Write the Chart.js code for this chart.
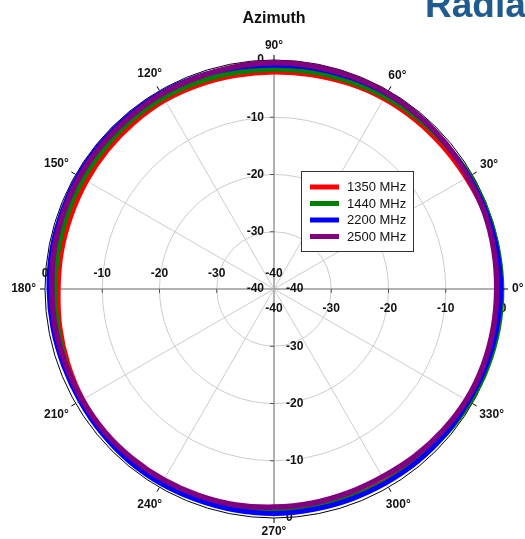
<!DOCTYPE html>
<html lang="en">
<head>
<meta charset="UTF-8">
<title>Azimuth Pattern</title>
<script src="https://cdn.jsdelivr.net/npm/chart.js"></script>
<style>
    body { margin: 0; background: #fff; }
    canvas { display: block; }
</style>
</head>
<body>
<canvas id="azChart" width="525" height="539"></canvas>
<script>
// azimuth angles in degrees (0 = right, counter-clockwise), gain in dB
const angles = [0, 10, 20, 30, 40, 50, 60, 70, 80, 90, 100, 110, 120, 130, 140, 150, 160, 170,
                180, 190, 200, 210, 220, 230, 240, 250, 260, 270, 280, 290, 300, 310, 320, 330, 340, 350];
const gain1350 = [-0.4, -0.5, -0.8, -1.2, -1.4, -1.5, -1.6, -1.8, -2.0, -2.1, -2.1, -2.0, -1.9, -2.0, -2.1, -2.2, -2.3, -2.3,
                  -2.3, -2.0, -1.7, -1.4, -1.3, -1.3, -1.3, -1.3, -1.4, -1.35, -1.4, -1.3, -1.2, -1.1, -1.0, -0.9, -0.7, -0.5];
const gain1440 = [-0.2, -0.3, -0.4, -0.5, -0.8, -1.0, -1.2, -1.4, -1.5, -1.6, -1.6, -1.5, -1.4, -1.4, -1.5, -1.5, -1.6, -1.7,
                  -1.75, -1.6, -1.4, -1.2, -1.2, -1.2, -1.2, -1.3, -1.4, -1.4, -1.3, -1.2, -1.1, -0.9, -0.7, -0.5, -0.3, -0.2];
const gain2200 = [-0.4, -0.5, -0.6, -0.7, -0.7, -0.6, -0.6, -0.7, -0.8, -0.9, -0.8, -0.6, -0.5, -0.5, -0.5, -0.5, -0.6, -0.6,
                  -0.7, -0.8, -0.9, -0.9, -0.8, -0.7, -0.7, -0.8, -0.8, -0.8, -0.9, -0.9, -0.9, -0.8, -0.8, -0.8, -0.6, -0.5];
const gain2500 = [-1.1, -1.0, -0.9, -0.9, -0.7, -0.6, -0.5, -0.5, -0.5, -0.5, -0.6, -0.7, -0.7, -0.8, -0.8, -0.8, -0.9, -1.0,
                  -1.2, -1.2, -1.3, -1.3, -1.3, -1.4, -1.5, -1.6, -1.7, -1.9, -2.0, -2.1, -2.1, -1.8, -1.5, -1.2, -1.1, -1.1];
const seriesNames = ["1350 MHz", "1440 MHz", "2200 MHz", "2500 MHz"];
const seriesColors = ["#ff0000", "#008000", "#0000ff", "#800080"];
const radialTicks = [-40, -30, -20, -10, 0];
const angleTicks = [0, 30, 60, 90, 120, 150, 180, 210, 240, 270, 300, 330];

const FONT = "'Liberation Sans', Arial, sans-serif";

// radar goes clockwise from the start angle, the pattern goes counter-clockwise
const reorder = arr => arr.map((v, i) => arr[(arr.length - i) % arr.length]);
const indexOfAngle = a => ((360 - a) % 360) / 10;

const polarDecor = {
    id: "polarDecor",
    beforeDatasetsDraw(chart) {
        const r = chart.scales.r;
        const ctx = chart.ctx;
        const cx = r.xCenter, cy = r.yCenter;
        ctx.save();

        // small ticks along the axes
        ctx.strokeStyle = "#555";
        ctx.lineWidth = 1;
        radialTicks.forEach(v => {
            const d = r.getDistanceFromCenterForValue(v);
            if (d === 0 || v === 0) return;
            [cx - d, cx + d].forEach(x => {
                ctx.beginPath(); ctx.moveTo(x, cy); ctx.lineTo(x, cy + 4); ctx.stroke();
            });
            [cy - d, cy + d].forEach(y => {
                ctx.beginPath(); ctx.moveTo(cx, y); ctx.lineTo(cx - 4, y); ctx.stroke();
            });
        });

        // radial tick labels on all four half axes
        ctx.fillStyle = "#111";
        ctx.font = "bold 12px " + FONT;
        ctx.textBaseline = "middle";
        radialTicks.forEach(v => {
            const d = r.getDistanceFromCenterForValue(v);
            const txt = String(v);
            ctx.textAlign = "center";
            ctx.fillText(txt, cx - d, cy - 15);
            ctx.fillText(txt, cx + d, cy + 20);
            ctx.textAlign = "right";
            ctx.fillText(txt, cx - 10, cy - d);
            ctx.textAlign = "left";
            ctx.fillText(txt, cx + 12, cy + d);
        });
        ctx.restore();
    },
    afterDraw(chart) {
        const r = chart.scales.r;
        const ctx = chart.ctx;
        const R = r.drawingArea;
        ctx.save();

        // outer ticks + angle labels
        ctx.strokeStyle = "#000";
        ctx.lineWidth = 1;
        ctx.fillStyle = "#111";
        ctx.font = "bold 12px " + FONT;
        ctx.textAlign = "center";
        ctx.textBaseline = "middle";
        angleTicks.forEach(a => {
            const idx = indexOfAngle(a);
            const p0 = r.getPointPosition(idx, R);
            const p1 = r.getPointPosition(idx, R + 5);
            ctx.beginPath(); ctx.moveTo(p0.x, p0.y); ctx.lineTo(p1.x, p1.y); ctx.stroke();
            const txt = a + "\u00b0";
            const w = ctx.measureText(txt).width;
            const rad = a * Math.PI / 180;
            const ext = Math.abs(Math.cos(rad)) * w / 2 + Math.abs(Math.sin(rad)) * 5;
            const p = r.getPointPosition(idx, R + 9 + ext);
            ctx.fillText(txt, p.x, p.y);
        });

        // title
        ctx.font = "bold 16px " + FONT;
        ctx.fillText("Azimuth", 274, 19);

        // clipped page heading
        ctx.fillStyle = "#1f5b8e";
        ctx.font = "bold 37px " + FONT;
        ctx.textAlign = "left";
        ctx.textBaseline = "alphabetic";
        ctx.fillText("Radiation Pattern", 425, 17);

        // legend box
        ctx.fillStyle = "#fff";
        ctx.fillRect(301.5, 171.5, 112, 80);
        ctx.strokeStyle = "#333";
        ctx.strokeRect(301.5, 171.5, 112, 80);
        ctx.font = "13px " + FONT;
        ctx.textBaseline = "middle";
        chart.data.datasets.forEach((ds, i) => {
            const y = 187 + i * 16.5;
            ctx.strokeStyle = ds.borderColor;
            ctx.lineWidth = 5;
            ctx.beginPath(); ctx.moveTo(310, y); ctx.lineTo(339, y); ctx.stroke();
            ctx.fillStyle = "#111";
            ctx.fillText(ds.label, 347, y + 0.5);
        });
        ctx.restore();
    }
};

const gains = [gain1350, gain1440, gain2200, gain2500];

new Chart(document.getElementById("azChart"), {
    type: "radar",
    data: {
        labels: reorder(angles).map(a => a + "\u00b0"),
        datasets: gains.map((g, i) => ({
            label: seriesNames[i],
            data: reorder(g),
            borderColor: seriesColors[i],
            backgroundColor: seriesColors[i],
            borderWidth: i === 3 ? 5.5 : 5,
            borderJoinStyle: "round",
            tension: 0.4,
            pointRadius: 0,
            fill: false,
            order: 3 - i
        }))
    },
    options: {
        responsive: false,
        animation: false,
        layout: { padding: { left: 45, right: 21, top: 60, bottom: 20 } },
        plugins: {
            legend: { display: false },
            tooltip: { enabled: false },
            title: { display: false }
        },
        scales: {
            r: {
                min: -40,
                max: 0,
                startAngle: 90,
                ticks: { display: false, stepSize: 10 },
                pointLabels: { display: false },
                grid: {
                    circular: true,
                    color: c => (c.tick && c.tick.value === 0) ? "#000" : "#cccccc",
                    lineWidth: 1
                },
                angleLines: {
                    color: c => c.index % 9 === 0 ? "#999999" : "#cccccc",
                    lineWidth: c => c.index % 3 === 0 ? (c.index % 9 === 0 ? 1.5 : 1) : 0
                }
            }
        }
    },
    plugins: [polarDecor]
});
</script>
</body>
</html>
